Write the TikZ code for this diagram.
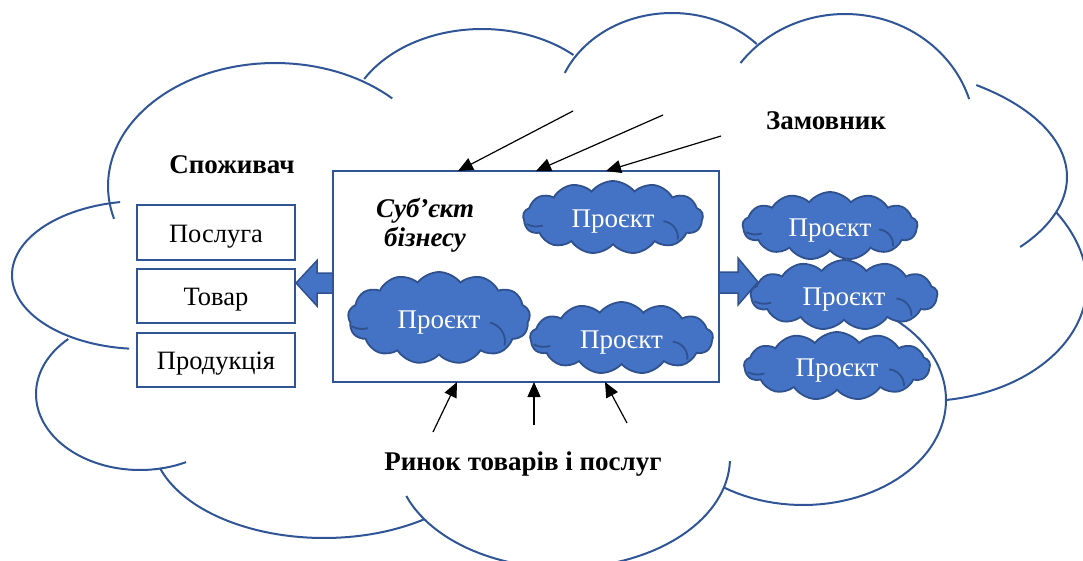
\documentclass[tikz,border=0pt]{standalone}
\usepackage{fontspec}
\setmainfont{Liberation Serif}
\usetikzlibrary{shapes.symbols,arrows.meta}
\definecolor{cloudline}{RGB}{47,85,151}
\definecolor{projfill}{RGB}{68,114,196}
\definecolor{projline}{RGB}{47,82,143}
\newcommand\lobe[6]{\draw[bigcloud] plot[domain=#5:#6,samples=60] ({#1+#3*cos(\x)},{#2+#4*sin(\x)});}
\newcommand\cmarks[4]{%
 \draw[projline,line width=1.8pt] ({#1-0.48*#3},{#2+0.09*#4}) to[bend right=20] ({#1-0.39*#3},{#2+0.11*#4});
 \draw[projline,line width=1.8pt] ({#1+0.28*#3},{#2+0.05*#4}) to[bend left=45] ({#1+0.36*#3},{#2+0.30*#4});}
\begin{document}
\begin{tikzpicture}[x=1pt,y=-1pt,
 bigcloud/.style={draw=cloudline,line width=2pt},
 box/.style={draw=cloudline,line width=2pt,minimum width=158pt,inner sep=0pt,text height=19pt,text depth=0pt,font=\fontsize{26.5}{30}\selectfont},
 proj/.style={cloud,cloud puffs=13,cloud puff arc=105,cloud ignores aspect,draw=projline,fill=projfill,line width=1.8pt,text=white,inner sep=0pt,text height=20pt,text depth=0pt,font=\fontsize{27}{30}\selectfont},
 lbl/.style={font=\fontsize{27}{30}\selectfont\bfseries,anchor=base,inner sep=0pt},
 ptr/.style={-{Triangle[length=15pt,width=13pt]},line width=1.2pt},
 blockarrow/.style={fill=projfill,draw=projline,line width=1.5pt,line join=miter}]
\useasboundingbox (0,0) rectangle (1083,560);
\clip (0,0) rectangle (1083,560);
% big cloud
\lobe{275}{186}{167}{123}{164.5}{314.6}
\lobe{482}{129}{136}{100}{210}{312.3}
\lobe{672}{113}{117}{100}{203.6}{316.4}
\lobe{845}{135}{130}{121}{216.5}{342.7}
\lobe{840}{177}{227}{115}{306.9}{397.5}
\draw[bigcloud] (1056,212) .. controls (1130,295) and (1062,388) .. (946,400);
\lobe{803}{400}{143}{105}{300}{483.5}
\lobe{563}{458}{167}{110}{1.6}{159.8}
\lobe{324}{438}{172}{100}{54.3}{162.5}
\lobe{140}{394}{104}{76}{226.4}{63.7}
\lobe{142}{275}{130}{74}{260.3}{95.7}
% labels
\node[lbl] (spoz) at (232,173) {Споживач};
\node[lbl] (zam) at (826,129) {Замовник};
\node[lbl] (rynok) at (523,470) {Ринок товарів і послуг};
\node[lbl,font=\fontsize{27}{30}\selectfont\bfseries\itshape] (subj1) at (425,217) {Суб’єкт};
\node[lbl,font=\fontsize{27}{30}\selectfont\bfseries\itshape] (subj2) at (425,246) {бізнесу};
% block arrows
\draw[blockarrow] (333,273) -- (317,273) -- (317,260.5) -- (296,283) -- (317,306) -- (317,293) -- (333,293) -- cycle;
\draw[blockarrow] (719,272) -- (738,272) -- (738,258) -- (758,282) -- (738,305) -- (738,293) -- (719,293) -- cycle;
% main rectangle
\node[draw=cloudline,line width=2pt,minimum width=386pt,minimum height=211pt,inner sep=0pt] (main) at (526,276.5) {};
% boxes
\node[box,minimum height=55pt] (posl) at (216,232.5) {Послуга};
\node[box,minimum height=54pt] (tov) at (216,296) {Товар};
\node[box,minimum height=54pt] (prod) at (216,360) {Продукція};
% project clouds
\node[proj,minimum width=180pt,minimum height=73pt] (c1) at (613,217.5) {Проєкт};
\cmarks{613}{217.5}{180}{73}
\node[proj,minimum width=182pt,minimum height=92pt] (c2) at (439,318) {Проєкт};
\cmarks{439}{318}{182}{92}
\node[proj,minimum width=183pt,minimum height=72pt] (c3) at (621.5,338) {Проєкт};
\cmarks{621.5}{338}{183}{72}
\node[proj,minimum width=175pt,minimum height=68pt] (r1) at (830,226) {Проєкт};
\cmarks{830}{226}{175}{68}
\node[proj,minimum width=187pt,minimum height=70pt] (r2) at (844,295) {Проєкт};
\cmarks{844}{295}{187}{70}
\node[proj,minimum width=186pt,minimum height=68pt] (r3) at (837,366) {Проєкт};
\cmarks{837}{366}{186}{68}
% pointer arrows
\coordinate (t1) at (573,111); \coordinate (t2) at (663,115); \coordinate (t3) at (721,136);
\coordinate (b1) at (433,432); \coordinate (b2) at (534,425); \coordinate (b3) at (627,423);
\draw[ptr] (t1) -- (458,171);
\draw[ptr] (t2) -- (536,171);
\draw[ptr] (t3) -- (606,171);
\draw[ptr] (b1) -- (457,382);
\draw[ptr] (b2) -- (534,382);
\draw[ptr] (b3) -- (605,382);
\end{tikzpicture}
\end{document}
